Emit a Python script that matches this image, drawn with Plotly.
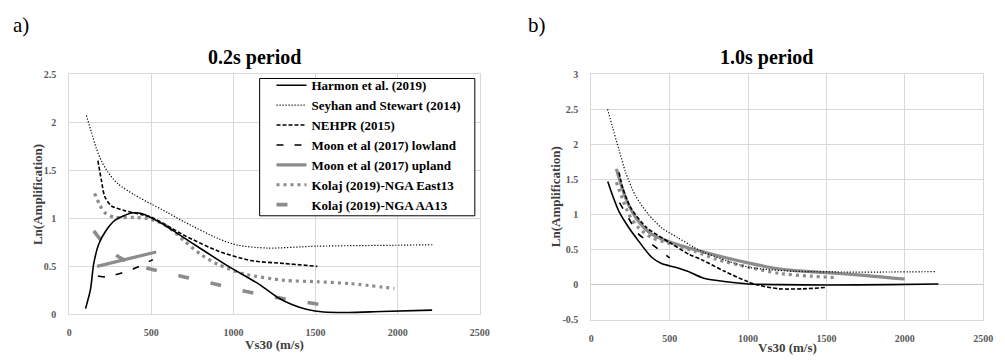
import plotly.graph_objects as go

# ---------------- 0.2 s period (panel a) ----------------
harmon_02_x = [100, 130, 150, 180, 220, 280, 380, 440, 560, 760, 960, 1160, 1275, 1360, 1450, 1550, 1700, 1900, 2210]
harmon_02_y = [0.06, 0.26, 0.53, 0.73, 0.86, 0.98, 1.055, 1.05, 0.95, 0.73, 0.51, 0.31, 0.17, 0.10, 0.05, 0.025, 0.02, 0.03, 0.045]

seyhan_02_x = [105, 135, 165, 196, 236, 296, 397, 498, 599, 704, 906, 1027, 1208, 1511, 2015, 2215]
seyhan_02_y = [2.07, 1.90, 1.73, 1.60, 1.48, 1.36, 1.245, 1.15, 1.06, 0.96, 0.79, 0.72, 0.69, 0.71, 0.72, 0.725]

nehpr_02_x = [175, 196, 216, 256, 337, 437, 502, 704, 906, 1107, 1309, 1511]
nehpr_02_y = [1.60, 1.40, 1.23, 1.13, 1.08, 1.04, 1.01, 0.82, 0.66, 0.56, 0.53, 0.50]

moon_low_02_x = [175, 220, 300, 400, 510]
moon_low_02_y = [0.40, 0.39, 0.42, 0.48, 0.57]

moon_up_02_x = [170, 530]
moon_up_02_y = [0.50, 0.65]

east13_02_x = [155, 186, 216, 276, 397, 498, 603, 704, 805, 906, 1067, 1309, 1511, 1712, 1980]
east13_02_y = [1.26, 1.14, 1.06, 1.01, 1.01, 0.99, 0.91, 0.76, 0.62, 0.52, 0.42, 0.355, 0.34, 0.32, 0.27]

aa13_02_x = [150, 200, 250, 300, 400, 500, 700, 900, 1100, 1300, 1500, 1620]
aa13_02_y = [0.87, 0.76, 0.67, 0.60, 0.52, 0.47, 0.39, 0.31, 0.23, 0.165, 0.11, 0.08]

# ---------------- 1.0 s period (panel b) ----------------
harmon_10_x = [105, 136, 177, 240, 302, 385, 448, 531, 615, 719, 865, 1000, 1200, 1500, 1900, 2215]
harmon_10_y = [1.47, 1.27, 1.04, 0.81, 0.62, 0.39, 0.30, 0.25, 0.19, 0.09, 0.04, 0.01, 0.0, -0.005, 0.0, 0.01]

seyhan_10_x = [104, 136, 177, 219, 281, 365, 448, 552, 656, 719, 865, 1000, 1100, 1300, 1600, 1900, 2200]
seyhan_10_y = [2.50, 2.24, 1.92, 1.60, 1.27, 1.00, 0.81, 0.67, 0.53, 0.46, 0.34, 0.25, 0.22, 0.19, 0.18, 0.18, 0.185]

nehpr_10_x = [177, 200, 250, 350, 500, 625, 700, 850, 1000, 1070, 1200, 1350, 1500]
nehpr_10_y = [1.60, 1.38, 1.10, 0.82, 0.60, 0.43, 0.36, 0.19, 0.04, -0.01, -0.06, -0.06, -0.04]

moon_low_10_x = [180, 250, 302, 396, 500]
moon_low_10_y = [1.17, 0.90, 0.72, 0.56, 0.38]

moon_up_10_x = [160, 198, 240, 302, 385, 510, 656, 760, 865, 1000, 1180, 1300, 1500, 1700, 2000]
moon_up_10_y = [1.65, 1.37, 1.13, 0.90, 0.72, 0.60, 0.50, 0.44, 0.38, 0.31, 0.23, 0.20, 0.17, 0.14, 0.08]

east13_10_x = [160, 198, 240, 302, 385, 510, 656, 800, 1000, 1200, 1400, 1560]
east13_10_y = [1.46, 1.23, 1.00, 0.81, 0.67, 0.58, 0.48, 0.36, 0.25, 0.16, 0.12, 0.10]

# ---------------- axes ----------------
x_ticks = [0, 500, 1000, 1500, 2000, 2500]
x_tick_labels = ["0", "500", "1000", "1500", "2000", "2500"]
y_ticks_a = [0, 0.5, 1, 1.5, 2, 2.5]
y_tick_labels_a = ["0", "0.5", "1", "1.5", "2", "2.5"]
y_ticks_b = [-0.5, 0, 0.5, 1, 1.5, 2, 2.5, 3]
y_tick_labels_b = ["-0.5", "0", "0.5", "1", "1.5", "2", "2.5", "3"]

series_names = [
    "Harmon et al. (2019)",
    "Seyhan and Stewart (2014)",
    "NEHPR (2015)",
    "Moon et al (2017) lowland",
    "Moon et al (2017) upland",
    "Kolaj (2019)-NGA East13",
    "Kolaj (2019)-NGA AA13",
]

GRAY = "#8c8c8c"
styles = {
    "Harmon et al. (2019)": dict(color="black", width=1.6, dash="solid"),
    "Seyhan and Stewart (2014)": dict(color="black", width=1.2, dash="1.2px,1.8px"),
    "NEHPR (2015)": dict(color="black", width=1.6, dash="4px,2px"),
    "Moon et al (2017) lowland": dict(color="black", width=1.6, dash="7px,11px"),
    "Moon et al (2017) upland": dict(color=GRAY, width=3.2, dash="solid"),
    "Kolaj (2019)-NGA East13": dict(color=GRAY, width=3.2, dash="3px,4px"),
    "Kolaj (2019)-NGA AA13": dict(color=GRAY, width=3.6, dash="11px,22px"),
}

panel_a = {
    "Harmon et al. (2019)": (harmon_02_x, harmon_02_y),
    "Seyhan and Stewart (2014)": (seyhan_02_x, seyhan_02_y),
    "NEHPR (2015)": (nehpr_02_x, nehpr_02_y),
    "Moon et al (2017) lowland": (moon_low_02_x, moon_low_02_y),
    "Moon et al (2017) upland": (moon_up_02_x, moon_up_02_y),
    "Kolaj (2019)-NGA East13": (east13_02_x, east13_02_y),
    "Kolaj (2019)-NGA AA13": (aa13_02_x, aa13_02_y),
}
panel_b = {
    "Harmon et al. (2019)": (harmon_10_x, harmon_10_y),
    "Seyhan and Stewart (2014)": (seyhan_10_x, seyhan_10_y),
    "NEHPR (2015)": (nehpr_10_x, nehpr_10_y),
    "Moon et al (2017) lowland": (moon_low_10_x, moon_low_10_y),
    "Moon et al (2017) upland": (moon_up_10_x, moon_up_10_y),
    "Kolaj (2019)-NGA East13": (east13_10_x, east13_10_y),
}

fig = go.Figure()

# draw order: gray curves beneath black ones
draw_order = [
    "Moon et al (2017) upland",
    "Kolaj (2019)-NGA East13",
    "Kolaj (2019)-NGA AA13",
    "Harmon et al. (2019)",
    "Seyhan and Stewart (2014)",
    "NEHPR (2015)",
    "Moon et al (2017) lowland",
]

for name in draw_order:
    x, y = panel_a[name]
    fig.add_trace(go.Scatter(
        x=x, y=y, name=name, mode="lines",
        line=dict(shape="spline", smoothing=0.7, **styles[name]),
        xaxis="x", yaxis="y", showlegend=True, legendgroup=name,
        legendrank=series_names.index(name),
    ))
for name in draw_order:
    if name not in panel_b:
        continue
    x, y = panel_b[name]
    fig.add_trace(go.Scatter(
        x=x, y=y, name=name, mode="lines",
        line=dict(shape="spline", smoothing=0.7, **styles[name]),
        xaxis="x2", yaxis="y2", showlegend=False, legendgroup=name,
    ))

W, H = 1005, 361
SERIF = "Liberation Serif, Times New Roman, Times, serif"
tick_font = dict(family=SERIF, size=10, color="#595959", weight="bold")
frame = dict(showgrid=True, gridcolor="#d9d9d9", gridwidth=1,
             showline=True, linecolor="#d9d9d9", linewidth=1, mirror=True,
             ticks="", tickfont=tick_font)


def px_x(p):
    return p / W


def px_y(p):
    return 1 - p / H


fig.update_layout(
    width=W, height=H,
    margin=dict(l=0, r=0, t=0, b=0),
    paper_bgcolor="white", plot_bgcolor="white",
    font=dict(family=SERIF, color="black"),
    xaxis=dict(domain=[px_x(67), px_x(483)], range=[0, 2500], tickvals=x_ticks,
               ticktext=x_tick_labels, zeroline=False, anchor="y",
               ticklabelstandoff=9, **frame),
    yaxis=dict(domain=[px_y(319), px_y(70.5)], range=[0, 2.5], tickvals=y_ticks_a,
               ticktext=y_tick_labels_a, zeroline=False, anchor="x",
               ticklabelstandoff=10, **frame),
    xaxis2=dict(domain=[px_x(596), px_x(993)], range=[0, 2500], tickvals=x_ticks,
                ticktext=x_tick_labels, zeroline=False, anchor="y2",
                ticklabelstandoff=9, **frame),
    yaxis2=dict(domain=[px_y(324.5), px_y(70.5)], range=[-0.5, 3], tickvals=y_ticks_b,
                ticktext=y_tick_labels_b, zeroline=True, zerolinecolor="#c8c8c8",
                zerolinewidth=1, anchor="x2", ticklabelstandoff=10, **frame),
    legend=dict(
        x=px_x(272), y=px_y(66.5), xanchor="left", yanchor="top",
        bgcolor="rgba(0,0,0,0)", borderwidth=0,
        font=dict(family=SERIF, size=13, color="black", weight="bold"),
        traceorder="normal", itemwidth=30, tracegroupgap=0.5,
    ),
    showlegend=True,
    # white, black-edged frame behind the legend entries
    shapes=[dict(type="rect", xref="paper", yref="paper",
                 x0=px_x(260), x1=px_x(478), y0=px_y(217), y1=px_y(75),
                 fillcolor="white", line=dict(color="black", width=1), layer="above")],
)

annotations = [
    dict(text="a)", x=px_x(8), y=px_y(20), xanchor="left", yanchor="middle",
         font=dict(family=SERIF, size=21, color="black")),
    dict(text="b)", x=px_x(530), y=px_y(20), xanchor="left", yanchor="middle",
         font=dict(family=SERIF, size=21, color="black")),
    dict(text="0.2s period", x=px_x(255), y=px_y(53), xanchor="center", yanchor="middle",
         font=dict(family=SERIF, size=20, color="black", weight="bold")),
    dict(text="1.0s period", x=px_x(774), y=px_y(53), xanchor="center", yanchor="middle",
         font=dict(family=SERIF, size=20, color="black", weight="bold")),
    dict(text="Ln(Amplification)", x=px_x(35), y=px_y(195), xanchor="center", yanchor="middle",
         textangle=-90, font=dict(family=SERIF, size=13, color="#404040", weight="bold")),
    dict(text="Ln(Amplification)", x=px_x(560), y=px_y(197), xanchor="center", yanchor="middle",
         textangle=-90, font=dict(family=SERIF, size=13, color="#404040", weight="bold")),
    dict(text="Vs30 (m/s)", x=px_x(275), y=px_y(350), xanchor="center", yanchor="middle",
         font=dict(family=SERIF, size=13, color="#404040", weight="bold")),
    dict(text="Vs30 (m/s)", x=px_x(795), y=px_y(353), xanchor="center", yanchor="middle",
         font=dict(family=SERIF, size=13, color="#404040", weight="bold")),
]
for a in annotations:
    a.update(xref="paper", yref="paper", showarrow=False)
fig.update_layout(annotations=annotations)

fig.write_html("out.html")
